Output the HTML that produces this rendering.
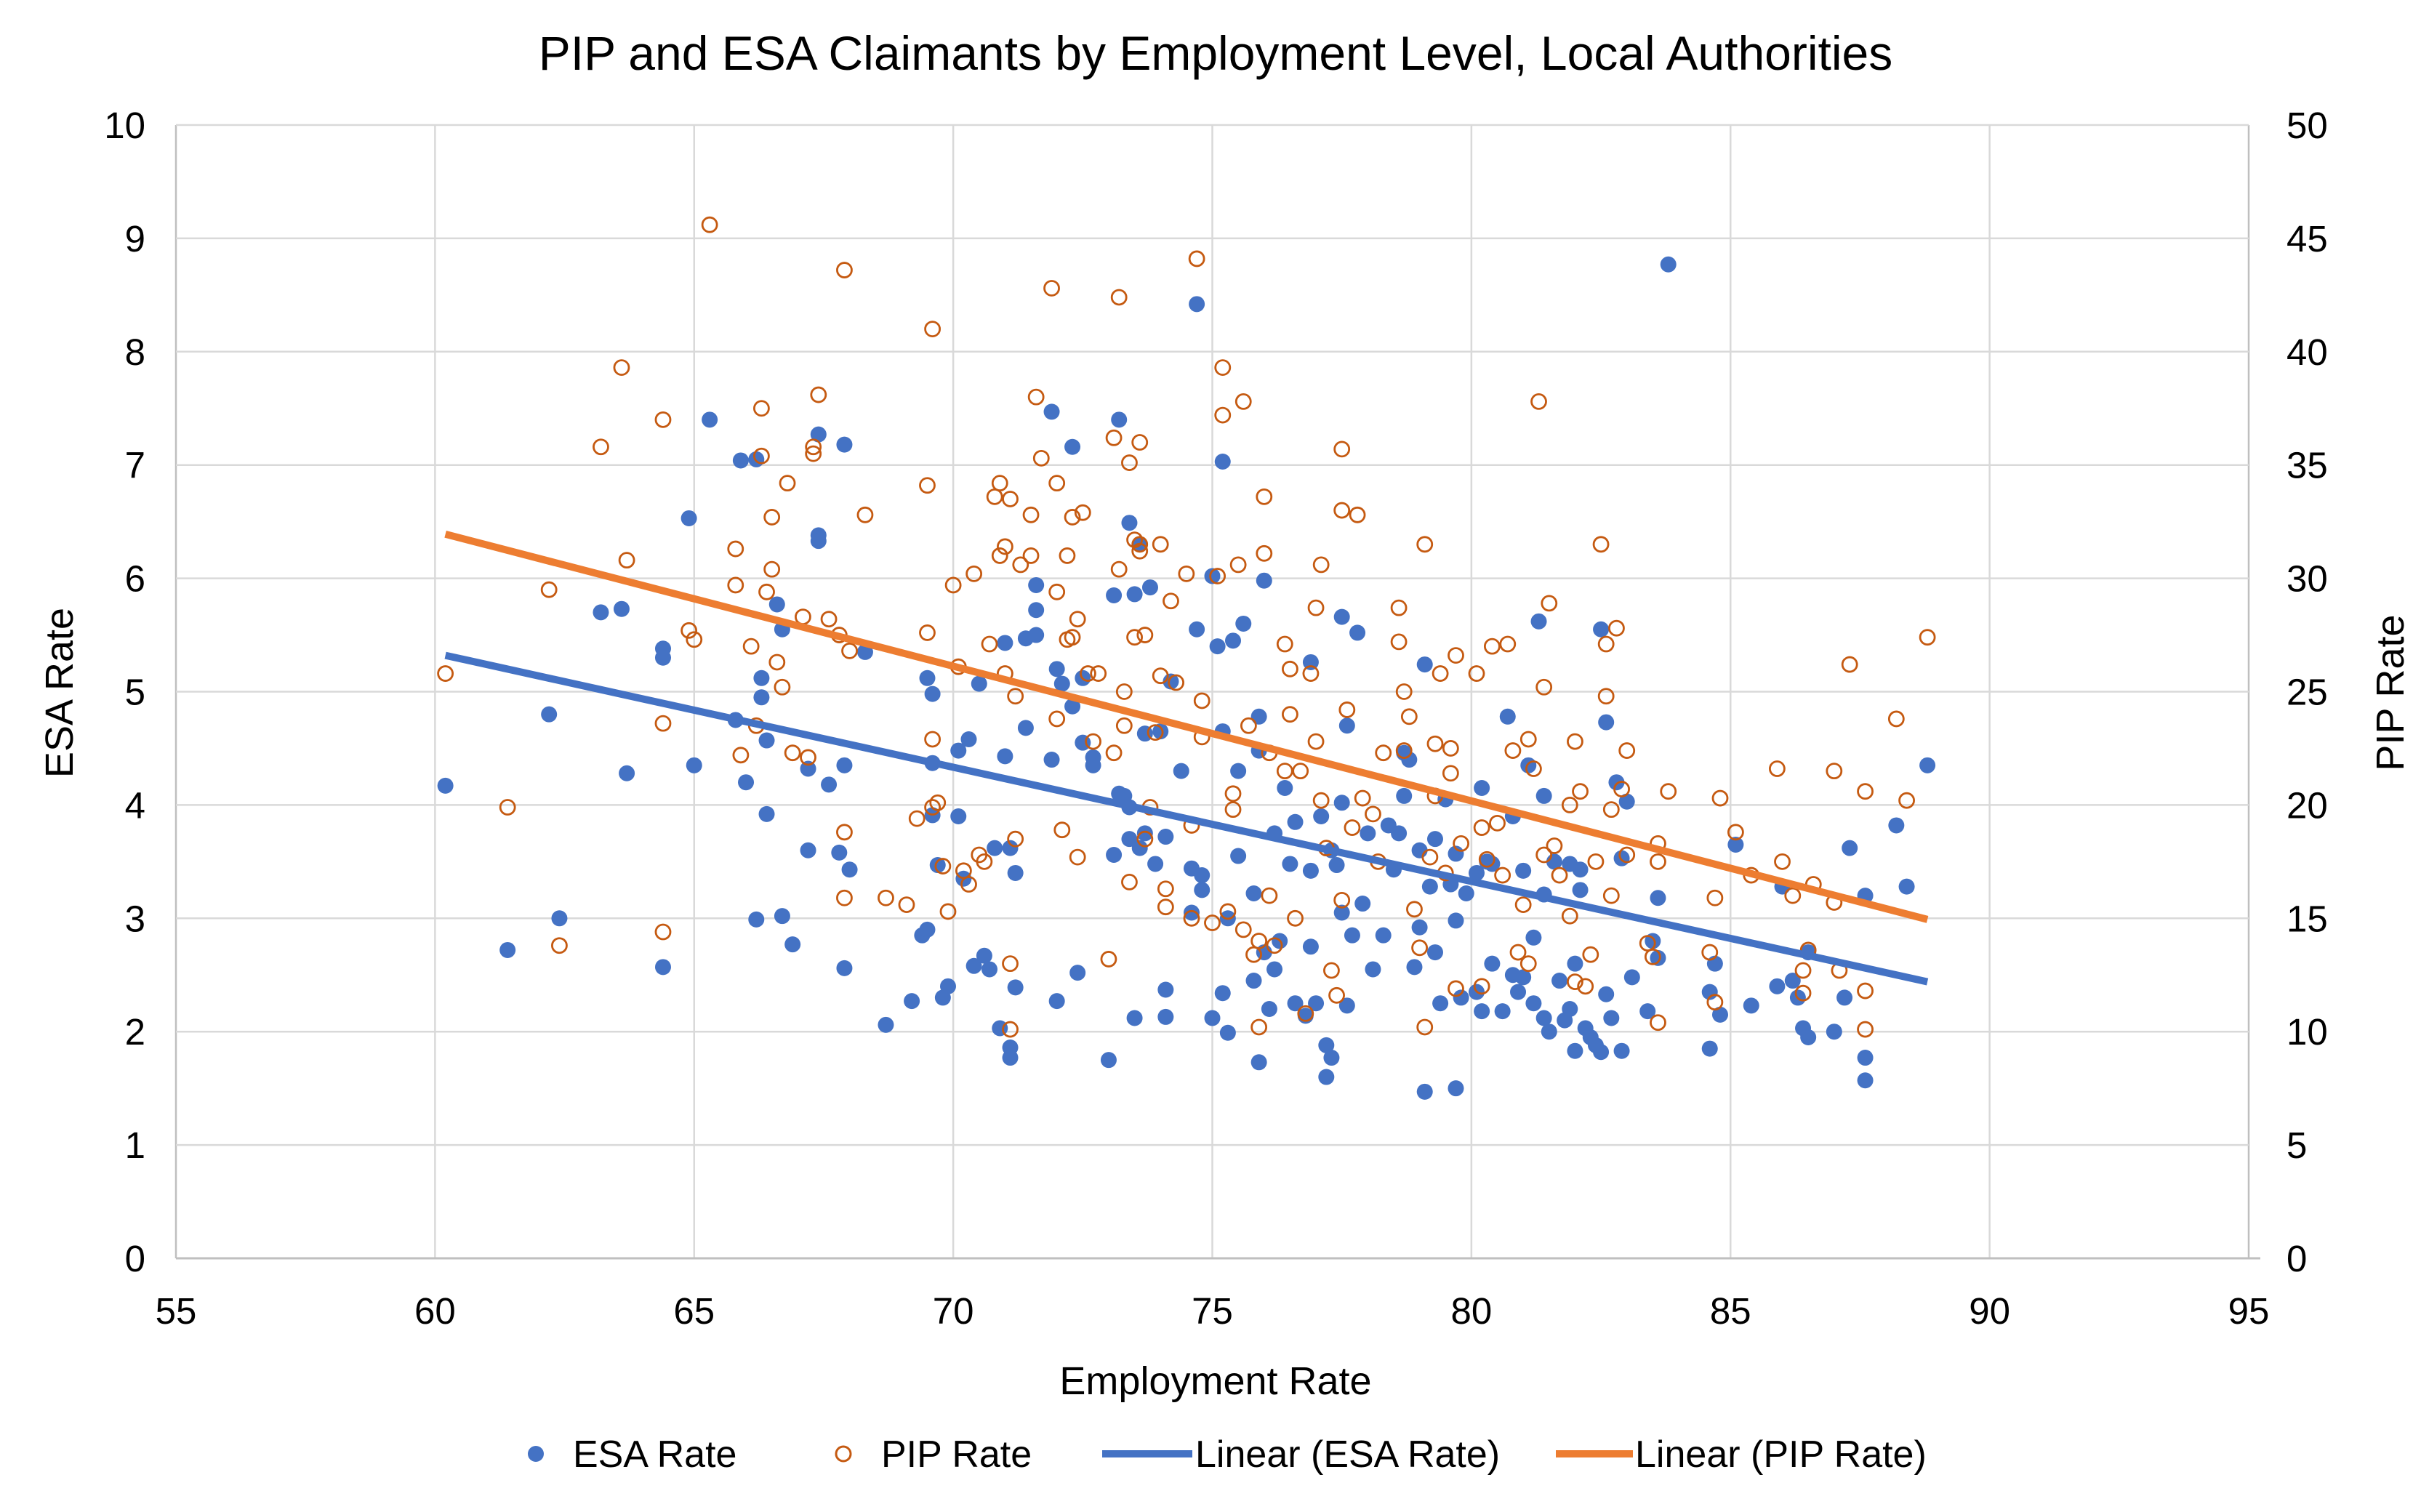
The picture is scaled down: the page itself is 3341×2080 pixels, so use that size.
<!DOCTYPE html>
<html><head><meta charset="utf-8">
<style>
html,body{margin:0;padding:0;background:#fff;}
svg{display:block;font-family:"Liberation Sans",Arial,sans-serif;}
</style></head>
<body>
<svg id="chart" width="3341" height="2080" viewBox="0 0 3341 2080" xmlns="http://www.w3.org/2000/svg">
<rect width="3341" height="2080" fill="#fff"/>
<text x="1672" y="96" font-size="66" text-anchor="middle" fill="#000">PIP and ESA Claimants by Employment Level, Local Authorities</text>
<g id="grid"></g>
<g id="axes"></g>
<g id="marks"></g>
<text x="1672" y="1918" font-size="54" text-anchor="middle">Employment Rate</text>
<text transform="translate(100,953) rotate(-90)" font-size="54" text-anchor="middle">ESA Rate</text>
<text transform="translate(3306,953) rotate(-90)" font-size="54" text-anchor="middle">PIP Rate</text>
<g>
  <g>
    <circle cx="737" cy="2000" r="11" fill="#4472C4"/>
    <text x="788" y="2018" font-size="52">ESA Rate</text>
  </g>
  <g>
    <circle cx="1160" cy="2000" r="10" fill="#fff" stroke="#C55A11" stroke-width="3"/>
    <text x="1212" y="2018" font-size="52">PIP Rate</text>
  </g>
  <g>
    <line x1="1516" y1="2000" x2="1640" y2="2000" stroke="#4472C4" stroke-width="10"/>
    <text x="1644" y="2018" font-size="52">Linear (ESA Rate)</text>
  </g>
  <g>
    <line x1="2140" y1="2000" x2="2246" y2="2000" stroke="#ED7D31" stroke-width="10"/>
    <text x="2249" y="2018" font-size="52">Linear (PIP Rate)</text>
  </g>
</g>
</svg>
<script>
const xTicks = [55,60,65,70,75,80,85,90,95];
const esaTicks = [0,1,2,3,4,5,6,7,8,9,10];
const pipTicks = [0,5,10,15,20,25,30,35,40,45,50];
const esaX = [60.2,61.4,62.2,62.4,63.2,63.6,63.7,64.4,64.4,64.4,64.9,65.0,65.3,65.8,65.9,66.0,66.2,66.2,66.3,66.3,66.4,66.4,66.6,66.7,66.7,66.9,67.2,67.2,67.4,67.4,67.4,67.6,67.8,67.9,67.9,67.9,68.0,68.3,68.7,69.2,69.4,69.5,69.5,69.6,69.6,69.6,69.7,69.8,69.9,70.1,70.1,70.2,70.3,70.4,70.5,70.6,70.7,70.8,70.9,71.0,71.0,71.1,71.1,71.1,71.2,71.2,71.4,71.4,71.6,71.6,71.6,71.9,71.9,72.0,72.0,72.1,72.3,72.3,72.4,72.5,72.5,72.7,72.7,73.0,73.1,73.1,73.2,73.2,73.3,73.4,73.4,73.4,73.5,73.5,73.6,73.6,73.7,73.7,73.8,73.9,74.0,74.1,74.1,74.1,74.2,74.4,74.6,74.6,74.7,74.7,74.8,74.8,75.0,75.0,75.1,75.2,75.2,75.2,75.3,75.3,75.4,75.5,75.5,75.6,75.8,75.8,75.9,75.9,75.9,76.0,76.0,76.1,76.2,76.2,76.3,76.4,76.5,76.6,76.6,76.8,76.9,76.9,76.9,77.0,77.1,77.2,77.2,77.3,77.3,77.4,77.5,77.5,77.5,77.6,77.6,77.7,77.8,77.9,78.0,78.1,78.3,78.4,78.5,78.6,78.7,78.7,78.8,78.9,79.0,79.0,79.1,79.1,79.2,79.3,79.3,79.4,79.5,79.6,79.7,79.7,79.7,79.8,79.9,80.1,80.1,80.2,80.2,80.3,80.4,80.4,80.6,80.7,80.8,80.8,80.9,81.0,81.0,81.1,81.2,81.2,81.3,81.4,81.4,81.4,81.5,81.6,81.7,81.8,81.9,81.9,82.0,82.0,82.1,82.1,82.2,82.3,82.4,82.5,82.5,82.6,82.6,82.7,82.8,82.9,82.9,83.0,83.1,83.4,83.5,83.6,83.6,83.8,84.6,84.6,84.7,84.8,85.1,85.4,85.9,86.0,86.2,86.3,86.4,86.5,86.5,87.0,87.2,87.3,87.6,87.6,87.6,88.2,88.4,88.8];
const esaY = [4.17,2.72,4.8,3.0,5.7,5.73,4.28,5.38,5.3,2.57,6.53,4.35,7.4,4.75,7.04,4.2,7.05,2.99,5.12,4.95,3.92,4.57,5.77,5.55,3.02,2.77,4.32,3.6,6.38,6.33,7.27,4.18,3.58,7.18,4.35,2.56,3.43,5.35,2.06,2.27,2.85,2.9,5.12,4.98,4.37,3.91,3.47,2.3,2.4,4.48,3.9,3.35,4.58,2.58,5.07,2.67,2.55,3.62,2.03,5.43,4.43,3.62,1.86,1.77,2.39,3.4,4.68,5.47,5.5,5.94,5.72,7.47,4.4,5.2,2.27,5.07,7.16,4.87,2.52,5.12,4.55,4.35,4.42,1.75,5.85,3.56,7.4,4.1,4.08,6.49,3.98,3.7,2.12,5.86,6.3,3.62,4.63,3.75,5.92,3.48,4.65,2.37,2.13,3.72,5.09,4.3,3.05,3.44,5.55,8.42,3.38,3.25,2.12,6.02,5.4,4.65,2.34,7.03,3.0,1.99,5.45,3.55,4.3,5.6,2.45,3.22,4.78,1.73,4.48,5.98,2.7,2.2,3.75,2.55,2.8,4.15,3.48,2.25,3.85,2.14,5.26,3.42,2.75,2.25,3.9,1.88,1.6,1.77,3.6,3.47,4.02,5.66,3.05,4.7,2.23,2.85,5.52,3.13,3.75,2.55,2.85,3.82,3.43,3.75,4.46,4.08,4.4,2.57,3.6,2.92,5.24,1.47,3.28,3.7,2.7,2.25,4.05,3.3,2.98,1.5,3.57,2.3,3.22,3.4,2.35,2.18,4.15,3.5,3.48,2.6,2.18,4.78,2.5,3.9,2.35,3.42,2.48,4.35,2.83,2.25,5.62,4.08,3.21,2.12,2.0,3.5,2.45,2.1,3.48,2.2,1.83,2.6,3.25,3.43,2.03,1.95,1.88,1.82,5.55,4.73,2.33,2.12,4.2,1.83,3.53,4.03,2.48,2.18,2.8,2.65,3.18,8.77,2.35,1.85,2.6,2.15,3.65,2.23,2.4,3.28,2.45,2.3,2.03,1.95,2.7,2.0,2.3,3.62,3.2,1.77,1.57,3.82,3.28,4.35];
const pipX = [60.2,61.4,62.2,62.4,63.2,63.6,63.7,64.4,64.4,64.4,64.9,65.0,65.3,65.8,65.8,65.9,66.1,66.2,66.3,66.3,66.4,66.5,66.5,66.6,66.7,66.8,66.9,67.1,67.2,67.3,67.3,67.4,67.6,67.8,67.9,67.9,67.9,68.0,68.3,68.7,69.1,69.3,69.5,69.5,69.6,69.6,69.6,69.7,69.8,69.9,70.0,70.1,70.2,70.3,70.4,70.5,70.6,70.7,70.8,70.9,70.9,71.0,71.0,71.1,71.1,71.1,71.2,71.2,71.3,71.5,71.5,71.6,71.7,71.9,72.0,72.0,72.0,72.1,72.2,72.2,72.3,72.3,72.4,72.4,72.5,72.6,72.7,72.8,73.0,73.1,73.1,73.2,73.2,73.3,73.3,73.4,73.4,73.5,73.5,73.6,73.6,73.6,73.7,73.7,73.8,73.9,74.0,74.0,74.1,74.1,74.2,74.3,74.5,74.6,74.6,74.7,74.8,74.8,75.0,75.1,75.2,75.2,75.3,75.4,75.4,75.5,75.6,75.6,75.7,75.8,75.9,75.9,76.0,76.0,76.1,76.1,76.2,76.4,76.4,76.5,76.5,76.6,76.7,76.8,76.9,77.0,77.0,77.1,77.1,77.2,77.3,77.4,77.5,77.5,77.5,77.6,77.7,77.8,77.9,78.1,78.2,78.3,78.6,78.6,78.7,78.7,78.8,78.9,79.0,79.1,79.1,79.2,79.3,79.3,79.4,79.5,79.6,79.6,79.7,79.7,79.8,80.1,80.2,80.2,80.3,80.4,80.5,80.6,80.7,80.8,80.9,81.0,81.1,81.1,81.2,81.3,81.4,81.4,81.5,81.6,81.7,81.9,81.9,82.0,82.0,82.1,82.2,82.3,82.4,82.5,82.6,82.6,82.7,82.7,82.8,82.9,83.0,83.0,83.4,83.5,83.6,83.6,83.6,83.8,84.6,84.7,84.7,84.8,85.1,85.4,85.9,86.0,86.2,86.4,86.4,86.5,86.6,87.0,87.0,87.1,87.3,87.6,87.6,87.6,88.2,88.4,88.8];
const pipY = [25.8,19.9,29.5,13.8,35.8,39.3,30.8,37,23.6,14.4,27.7,27.3,45.6,31.3,29.7,22.2,27.0,23.5,37.5,35.4,29.4,32.7,30.4,26.3,25.2,34.2,22.3,28.3,22.1,35.5,35.8,38.1,28.2,27.5,43.6,18.8,15.9,26.8,32.8,15.9,15.6,19.4,34.1,27.6,41.0,22.9,19.9,20.1,17.3,15.3,29.7,26.1,17.1,16.5,30.2,17.8,17.5,27.1,33.6,34.2,31.0,25.8,31.4,33.5,10.1,13.0,24.8,18.5,30.6,31.0,32.8,38.0,35.3,42.8,34.2,29.4,23.8,18.9,31.0,27.3,32.7,27.4,28.2,17.7,32.9,25.8,22.8,25.8,13.2,36.2,22.3,42.4,30.4,23.5,25.0,16.6,35.1,27.4,31.7,36.0,31.5,31.2,27.5,18.5,19.9,23.2,31.5,25.7,15.5,16.3,29.0,25.4,30.2,15.0,19.1,44.1,23.0,24.6,14.8,30.1,37.2,39.3,15.3,20.5,19.8,30.6,37.8,14.5,23.5,13.4,10.2,14.0,33.6,31.1,22.3,16.0,13.8,27.1,21.5,24.0,26.0,15.0,21.5,10.8,25.8,28.7,22.8,20.2,30.6,18.1,12.7,11.6,15.8,33.0,35.7,24.2,19.0,32.8,20.3,19.6,17.5,22.3,28.7,27.2,25.0,22.4,23.9,15.4,13.7,31.5,10.2,17.7,22.7,20.4,25.8,17.0,22.5,21.4,26.6,11.9,18.3,25.8,12.0,19.0,17.6,27.0,19.2,16.9,27.1,22.4,13.5,15.6,13.0,22.9,21.6,37.8,17.8,25.2,28.9,18.2,16.9,20.0,15.1,22.8,12.2,20.6,12.0,13.4,17.5,31.5,27.1,24.8,16.0,19.8,27.8,20.7,22.4,17.8,13.9,13.3,10.4,18.3,17.5,20.6,13.5,11.3,15.9,20.3,18.8,16.9,21.6,17.5,16.0,11.7,12.7,13.6,16.5,21.5,15.7,12.7,26.2,10.1,11.8,20.6,23.8,20.2,27.4];
const trendX = [60.2, 88.8];
const esaTrend = [5.32, 2.44];
const pipTrend = [31.95, 14.95];

const NS = "http://www.w3.org/2000/svg";
const L = 242, R = 3093, T = 172, B = 1731;
const sx = v => L + (v - 55) / 40 * (R - L);
const sy = v => B - v / 10 * (B - T);
const sy2 = v => B - v / 50 * (B - T);
function mk(tag, attrs, parent) {
  const e = document.createElementNS(NS, tag);
  for (const k in attrs) e.setAttribute(k, attrs[k]);
  parent.appendChild(e);
  return e;
}
const grid = document.getElementById('grid');
const axes = document.getElementById('axes');
const marks = document.getElementById('marks');

xTicks.forEach(t => {
  const x = sx(t);
  const ln = mk('line', {x1: x, y1: T, x2: x, y2: B, stroke: (t === 55 || t === 95) ? '#bfbfbf' : '#d9d9d9', 'stroke-width': 2.5}, grid);
  
  
  const tx = mk('text', {x: x, y: 1821, 'font-size': 51, 'text-anchor': 'middle'}, axes);
  tx.textContent = t;
  
  
});
esaTicks.forEach(t => {
  const y = sy(t);
  const ln = mk('line', {x1: L, y1: y, x2: R, y2: y, stroke: t === 0 ? '#bfbfbf' : '#d9d9d9', 'stroke-width': 2.5}, grid);
  
  
  const tx = mk('text', {x: 200, y: y + 18, 'font-size': 51, 'text-anchor': 'end'}, axes);
  tx.textContent = t;
  
  
});
pipTicks.forEach(t => {
  const y = sy2(t);
  const tx = mk('text', {x: 3145, y: y + 18, 'font-size': 51, 'text-anchor': 'start'}, axes);
  tx.textContent = t;
  
  
});
mk('line', {x1: L, y1: B, x2: R + 16, y2: B, stroke: '#bfbfbf', 'stroke-width': 3}, axes);

esaX.forEach((v, i) => {
  const c = mk('circle', {cx: sx(v), cy: sy(esaY[i]), r: 11, fill: '#4472C4'}, marks);
  
  
});
pipX.forEach((v, i) => {
  const c = mk('circle', {cx: sx(v), cy: sy2(pipY[i]), r: 10, fill: 'none', stroke: '#C55A11', 'stroke-width': 2.8}, marks);
  
  
});
const l1 = mk('line', {x1: sx(trendX[0]), y1: sy(esaTrend[0]), x2: sx(trendX[1]), y2: sy(esaTrend[1]), stroke: '#4472C4', 'stroke-width': 10}, marks);


const l2 = mk('line', {x1: sx(trendX[0]), y1: sy2(pipTrend[0]), x2: sx(trendX[1]), y2: sy2(pipTrend[1]), stroke: '#ED7D31', 'stroke-width': 10}, marks);


</script>
</body></html>
